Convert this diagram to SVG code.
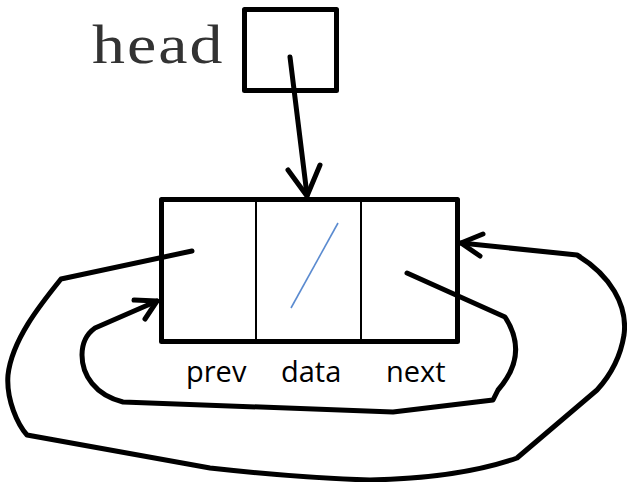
<svg xmlns="http://www.w3.org/2000/svg" width="627" height="482" viewBox="0 0 627 482">
<style>
.thick{fill:none;stroke:#000;stroke-width:5;stroke-linecap:round;stroke-linejoin:round}
.thin{fill:none;stroke:#000;stroke-width:2}
.lbl{font-family:"Open Sans","DejaVu Sans",sans-serif;font-size:29px;fill:#000}
.mono{font-family:"Liberation Serif","Times New Roman",serif;font-size:54px;fill:#333}
</style>
<rect width="627" height="482" fill="#fff"/>
<g id="head">
<text class="mono" transform="translate(92,63) scale(1.22,1)" x="0" y="0" textLength="107" lengthAdjust="spacing">head</text>
<rect class="thick" x="244.5" y="9.5" width="92" height="81" stroke-linejoin="miter"/>
</g>
<g id="node">
<rect class="thick" x="161.5" y="199.5" width="296" height="142" stroke-linejoin="miter"/>
<line class="thin" x1="256" y1="199" x2="256" y2="342"/>
<line class="thin" x1="361" y1="199" x2="361" y2="342"/>
<line x1="338" y1="223" x2="291" y2="308" stroke="#5B8BD0" stroke-width="1.6"/>
<text class="lbl" x="186" y="382">prev</text>
<text class="lbl" x="281" y="382">data</text>
<text class="lbl" x="386" y="382">next</text>
</g>
<g id="connectors">
<path class="thick" d="M290,57 L307,195" stroke-width="6"/>
<polyline class="thick" points="288,170 307,196 320,165" stroke-width="6"/>
<path class="thick" d="M192,251 L61,279 C40,305 12,340 8,375 C6,400 18,425 27,435 L210,468 Q300,478 370,480 Q460,478 517,458 L597,390 C608,378 620,360 624,335 C628,305 610,275 577,255 L461,243"/>
<polyline class="thick" points="483,234 461,243 480,256"/>
<path class="thick" d="M407,273 L505,317 C520,340 520,365 498,390 L493,400 L393,412 L123,402 C95,395 82,375 82,355 C82,340 88,333 95,328 L157,301"/>
<polyline class="thick" points="134,300 157,301 145,319"/>
</g>
</svg>
